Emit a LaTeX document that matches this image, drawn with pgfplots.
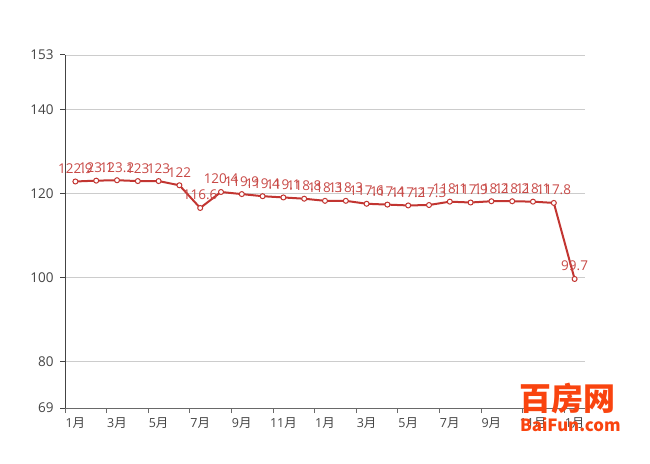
\documentclass[border=0pt]{standalone}
\usepackage{pgfplots}
\pgfplotsset{compat=1.18}
\usepackage{fontspec}
\setmainfont{Open Sans}
\newfontfamily\cjk{Noto Sans CJK SC}
\definecolor{lred}{HTML}{C23531}
\definecolor{axtext}{HTML}{444444}
\definecolor{axline}{HTML}{444444}
\definecolor{gridc}{HTML}{CCCCCC}
\definecolor{logo}{HTML}{F9440F}
\begin{document}
\begin{tikzpicture}
\path[use as bounding box] (0,0) rectangle (650bp,464bp);
\begin{axis}[
  at={(65bp,56bp)}, anchor=south west,
  scale only axis, width=520bp, height=353bp,
  xmin=-0.5, xmax=24.5, ymin=69, ymax=153,
  axis x line=bottom, axis y line=left,
  axis line style={-, line width=1bp},
  x axis line style={draw=axline!80},
  y axis line style={draw=axline},
  ytick={69,80,100,120,140,153},
  xtick={0,2,...,24},
  xticklabels={1{\cjk 月},3{\cjk 月},5{\cjk 月},7{\cjk 月},9{\cjk 月},11{\cjk 月},1{\cjk 月},3{\cjk 月},5{\cjk 月},7{\cjk 月},9{\cjk 月},11{\cjk 月},1{\cjk 月}},
  x tick style={draw=none},
  extra x ticks={-0.5,1.5,...,23.5},
  extra x tick labels={},
  extra x tick style={x tick style={draw=axline!80, line width=1bp}, major tick length=5bp, tick align=outside},
  y tick style={draw=axline, line width=1bp},
  tick align=outside, major tick length=5bp,
  ymajorgrids, grid style={draw=gridc, line width=0.8bp},
  ticklabel style={font=\fontsize{13.5bp}{15bp}\selectfont, text=axtext},
  yticklabel style={xshift=-3bp},
  xticklabel style={yshift=-1bp, font=\fontsize{12.5bp}{15bp}\selectfont},
  /pgf/number format/assume math mode=true,
  clip=false,
]
\addplot[lred, line width=2bp, mark=*, mark size=2.5bp,
  mark options={fill=white, draw=lred, line width=1bp},
  nodes near coords,
  every node near coord/.style={font=\fontsize{13.5bp}{15bp}\selectfont, text=lred!90, anchor=base, inner sep=0bp, yshift=8bp},
  point meta=explicit symbolic]
table[meta=lab] {
x y lab
0 122.9 122.9
1 123.1 123.1
2 123.2 123.2
3 123 123
4 123 123
5 122 122
6 116.6 116.6
7 120.4 120.4
8 119.9 119.9
9 119.4 119.4
10 119.1 119.1
11 118.8 118.8
12 118.3 118.3
13 118.3 118.3
14 117.6 117.6
15 117.4 117.4
16 117.2 117.2
17 117.3 117.3
18 118.1 118.1
19 117.9 117.9
20 118.2 118.2
21 118.2 118.2
22 118.1 118.1
23 117.8 117.8
24 99.7 99.7
};
\end{axis}
\node[anchor=north west, inner sep=0, text=logo, font=\cjk\fontsize{32bp}{32bp}\bfseries\selectfont] at (519bp,81bp) {百房网};
\node[anchor=north west, inner sep=0, text=logo, font=\cjk\fontsize{16.8bp}{16.8bp}\bfseries\selectfont] at (520bp,47bp) {BaiFun.com};
\end{tikzpicture}
\end{document}
